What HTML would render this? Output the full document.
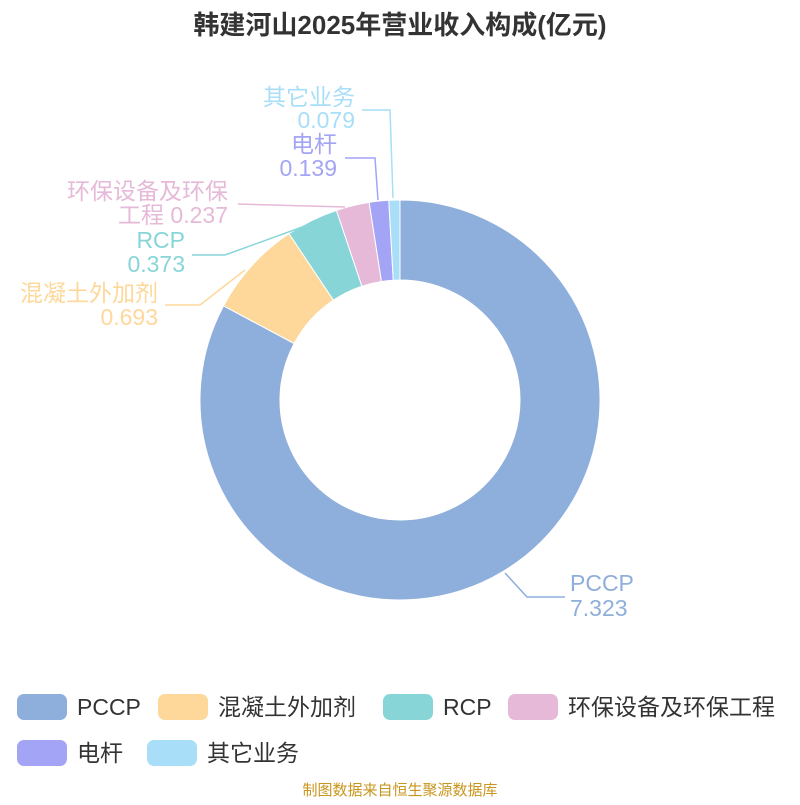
<!DOCTYPE html>
<html><head><meta charset="utf-8"><style>
body{margin:0;background:#fff;width:800px;height:800px;overflow:hidden;font-family:"Liberation Sans","Noto Sans CJK SC",sans-serif}
</style></head><body>
<svg id="s" width="800" height="800" xmlns="http://www.w3.org/2000/svg" font-family="Liberation Sans, Noto Sans CJK SC, sans-serif">
<text x="400" y="34" text-anchor="middle" font-size="26" font-weight="bold" fill="#333">韩建河山2025年营业收入构成(亿元)</text>
<g id="pie"></g>
<g fill="none" stroke-width="1.5">
<polyline points="505,573 527,597 565,597" stroke="#8eaedb"/>
<polyline points="245,270 200,305 165,305" stroke="#fdd89a"/>
<polyline points="305,226 225,255 192,255" stroke="#88d5d8"/>
<polyline points="345,207 238,204" stroke="#e6b9d8"/>
<polyline points="378,200 375,158 345,158" stroke="#a3a4f5"/>
<polyline points="393,198 390,110 362,110" stroke="#a8def7"/>
</g>
<g font-size="23">
<text x="570" y="591" fill="#8eaedb">PCCP</text><text x="570" y="616" fill="#8eaedb">7.323</text>
<g text-anchor="end">
<text x="158" y="301" fill="#fdd89a">混凝土外加剂</text><text x="158" y="325" fill="#fdd89a">0.693</text>
<text x="185" y="248" fill="#88d5d8">RCP</text><text x="185" y="272" fill="#88d5d8">0.373</text>
<text x="228" y="199" fill="#e6b9d8">环保设备及环保</text><text x="228" y="223" fill="#e6b9d8">工程 0.237</text>
<text x="337" y="152" fill="#a3a4f5">电杆</text><text x="337" y="176" fill="#a3a4f5">0.139</text>
<text x="355" y="105" fill="#a8def7">其它业务</text><text x="355" y="128" fill="#a8def7">0.079</text>
</g>
</g>
<g font-size="23" fill="#333">
<rect x="17" y="694" width="50" height="26" rx="7" fill="#8eaedb"/><text x="77" y="715">PCCP</text>
<rect x="158" y="694" width="50" height="26" rx="7" fill="#fdd89a"/><text x="218" y="715">混凝土外加剂</text>
<rect x="383" y="694" width="50" height="26" rx="7" fill="#88d5d8"/><text x="443" y="715">RCP</text>
<rect x="508" y="694" width="50" height="26" rx="7" fill="#e6b9d8"/><text x="568" y="715">环保设备及环保工程</text>
<rect x="17" y="740" width="50" height="26" rx="7" fill="#a3a4f5"/><text x="77" y="761">电杆</text>
<rect x="147" y="740" width="50" height="26" rx="7" fill="#a8def7"/><text x="207" y="761">其它业务</text>
</g>
<text x="400" y="795" text-anchor="middle" font-size="15" fill="#c8961e">制图数据来自恒生聚源数据库</text>
</svg>
<script>
var v=[7.323,0.693,0.373,0.237,0.139,0.079],c=["#8eaedb","#fdd89a","#88d5d8","#e6b9d8","#a3a4f5","#a8def7"];
var t=v.reduce((a,b)=>a+b),a=-90,cx=400,cy=400,R=200,r=120,h="";
function p(rad,ang){var q=ang*Math.PI/180;return (cx+rad*Math.cos(q)).toFixed(2)+","+(cy+rad*Math.sin(q)).toFixed(2);}
v.forEach(function(x,i){var d=x/t*360,b=a+d,l=d>180?1:0;
h+='<path d="M'+p(R,a)+' A'+R+','+R+' 0 '+l+' 1 '+p(R,b)+' L'+p(r,b)+' A'+r+','+r+' 0 '+l+' 0 '+p(r,a)+' Z" fill="'+c[i]+'" stroke="#fff" stroke-width="1"/>';a=b;});
document.getElementById("pie").innerHTML=h;
</script>
</body></html>
